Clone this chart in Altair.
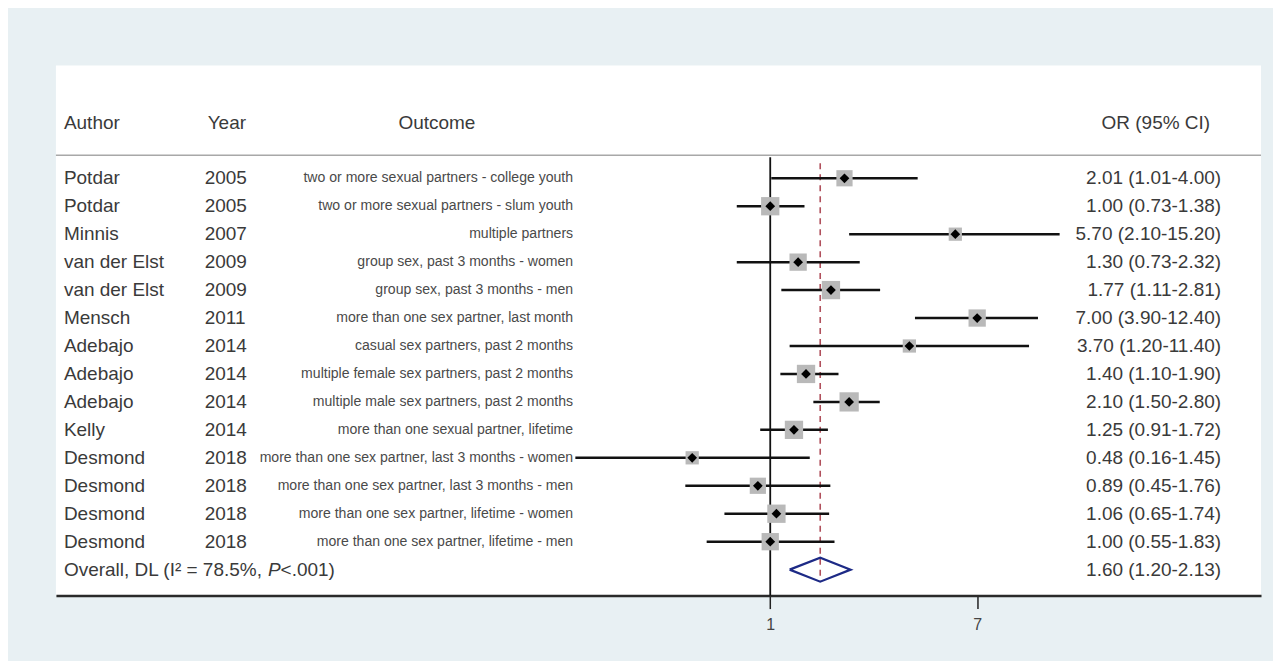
import altair as alt
import pandas as pd

# ---------------- data ----------------
headers = ["Author", "Year", "Outcome", "OR (95% CI)"]
authors = ["Potdar", "Potdar", "Minnis", "van der Elst", "van der Elst", "Mensch",
           "Adebajo", "Adebajo", "Adebajo", "Kelly", "Desmond", "Desmond",
           "Desmond", "Desmond"]
years = [2005, 2005, 2007, 2009, 2009, 2011, 2014, 2014, 2014, 2014,
         2018, 2018, 2018, 2018]
outcomes = [
    "two or more sexual partners - college youth",
    "two or more sexual partners - slum youth",
    "multiple partners",
    "group sex, past 3 months - women",
    "group sex, past 3 months - men",
    "more than one sex partner, last month",
    "casual sex partners, past 2 months",
    "multiple female sex partners, past 2 months",
    "multiple male sex partners, past 2 months",
    "more than one sexual partner, lifetime",
    "more than one sex partner, last 3 months - women",
    "more than one sex partner, last 3 months - men",
    "more than one sex partner, lifetime - women",
    "more than one sex partner, lifetime - men",
]
or_est = [2.01, 1.00, 5.70, 1.30, 1.77, 7.00, 3.70, 1.40, 2.10, 1.25, 0.48, 0.89, 1.06, 1.00]
or_lo = [1.01, 0.73, 2.10, 0.73, 1.11, 3.90, 1.20, 1.10, 1.50, 0.91, 0.16, 0.45, 0.65, 0.55]
or_hi = [4.00, 1.38, 15.20, 2.32, 2.81, 12.40, 11.40, 1.90, 2.80, 1.72, 1.45, 1.76, 1.74, 1.83]
weights = [6.6, 8.4, 4.4, 7.5, 8.4, 7.5, 4.4, 8.4, 9.3, 8.4, 4.4, 6.6, 8.4, 7.5]

overall_label = "Overall, DL (I\u00b2 = 78.5%, "
overall_p = "P"
overall_p_rest = "<.001)"
overall_est, overall_lo, overall_hi = 1.60, 1.20, 2.13
x_ticks = [1, 7]

# ---------------- tables ----------------
n = len(authors)
df = pd.DataFrame({
    "row": list(range(n)),
    "author": authors,
    "year": [str(y) for y in years],
    "outcome": outcomes,
    "est": or_est,
    "lo": or_lo,
    "hi": or_hi,
    "w": weights,
})
df["label"] = [f"{e:.2f} ({l:.2f}-{h:.2f})" for e, l, h in zip(or_est, or_lo, or_hi)]

orow = n
odf = pd.DataFrame({
    "row": [orow],
    "est": [overall_est],
    "lo": [overall_lo],
    "hi": [overall_hi],
    "label": [f"{overall_est:.2f} ({overall_lo:.2f}-{overall_hi:.2f})"],
    "t1": [overall_label],
    "t2": [overall_p],
    "t3": [overall_p_rest],
})
half = 0.43
diamond = pd.DataFrame({
    "x": [overall_lo, overall_est, overall_hi, overall_est, overall_lo],
    "row": [orow, orow - half, orow, orow + half, orow],
    "o": [0, 1, 2, 3, 4],
})

# ---------------- scales ----------------
W, H = 1207, 531
xscale = alt.Scale(type="log", domain=[0.00121, 101], nice=False)
yscale = alt.Scale(domain=[-4.036, 14.929], reverse=True, nice=False, zero=False)
FONT = "Liberation Sans"
TXT = "#3a3a3a"
Y = alt.Y("row:Q", scale=yscale, axis=None)

base = alt.Chart(df)

# header texts
hx = [8, 152, 343, 1156]
halign = ["left", "left", "left", "right"]
header_layers = [
    alt.Chart(pd.DataFrame({"t": [h]})).mark_text(
        align=a, baseline="middle", font=FONT, fontSize=19, color=TXT
    ).encode(text="t:N", x=alt.value(x), y=alt.value(58))
    for h, x, a in zip(headers, hx, halign)
]

header_rule = alt.Chart(pd.DataFrame({"a": [0]})).mark_rule(
    color="#a8a8a8", strokeWidth=1.5
).encode(x=alt.value(0), x2=alt.value(W), y=alt.value(90))

null_line = alt.Chart(pd.DataFrame({"x": [1]})).mark_rule(
    color="#111111", strokeWidth=1.8
).encode(x=alt.X("x:Q", scale=xscale), y=alt.value(92), y2=alt.value(H))

dashed = alt.Chart(odf).mark_rule(
    color="#b0505c", strokeWidth=1.6, strokeDash=[6, 5]
).encode(x=alt.X("est:Q", scale=xscale), y=alt.value(98), y2=alt.value(517))

ci = base.mark_rule(color="#111111", strokeWidth=2.5).encode(
    x=alt.X("lo:Q", scale=xscale,
            axis=alt.Axis(values=x_ticks, format="~g", title=None, grid=False)),
    x2="hi:Q",
    y=Y,
)

boxes = base.mark_square(color="#b9b9b9", opacity=1, filled=True).encode(
    x=alt.X("est:Q", scale=xscale),
    y=Y,
    size=alt.Size("w:Q", scale=alt.Scale(domain=[0, 10], range=[0, 400]), legend=None),
)

points = base.mark_point(shape="diamond", filled=True, size=95, color="#000000",
                         opacity=1).encode(x=alt.X("est:Q", scale=xscale), y=Y)

dia = alt.Chart(diamond).mark_line(color="#1d2a86", strokeWidth=2.2).encode(
    x=alt.X("x:Q", scale=xscale), y=alt.Y("row:Q", scale=yscale, axis=None),
    order="o:Q",
)

t_author = base.mark_text(align="left", baseline="middle", font=FONT,
                          fontSize=19, color=TXT).encode(
    text="author:N", x=alt.value(8), y=Y)
t_year = base.mark_text(align="left", baseline="middle", font=FONT,
                        fontSize=19, color=TXT).encode(
    text="year:N", x=alt.value(149), y=Y)
t_outcome = base.mark_text(align="right", baseline="middle", font=FONT,
                           fontSize=14.1, color="#4a4a4a").encode(
    text="outcome:N", x=alt.value(518), y=Y)
t_or = base.mark_text(align="right", baseline="middle", font=FONT,
                      fontSize=19, color=TXT).encode(
    text="label:N", x=alt.value(1167), y=Y)

ob = alt.Chart(odf)
t_o1 = ob.mark_text(align="left", baseline="middle", font=FONT, fontSize=19,
                    color=TXT).encode(text="t1:N", x=alt.value(8), y=Y)
t_o2 = ob.mark_text(align="left", baseline="middle", font=FONT, fontSize=19,
                    fontStyle="italic", color=TXT).encode(
    text="t2:N", x=alt.value(8 + 204.3), y=Y)
t_o3 = ob.mark_text(align="left", baseline="middle", font=FONT, fontSize=19,
                    color=TXT).encode(text="t3:N", x=alt.value(8 + 204.3 + 12.7), y=Y)
t_oor = ob.mark_text(align="right", baseline="middle", font=FONT, fontSize=19,
                     color=TXT).encode(text="label:N", x=alt.value(1167), y=Y)

chart = alt.layer(
    header_rule, null_line, dashed, ci, boxes, points, dia,
    *header_layers, t_author, t_year, t_outcome, t_or,
    t_o1, t_o2, t_o3, t_oor,
).properties(
    width=W, height=H,
    padding={"left": 47, "top": 57, "right": 11, "bottom": 49},
    background="#e8f0f3",
).configure_view(
    fill="white", strokeWidth=0
).configure_axisX(
    domainColor="#2a2a2a", domainWidth=2.5, tickColor="#222222", tickWidth=1.5,
    tickSize=13, labelFontSize=16, labelColor="#444444", labelFont=FONT,
    labelPadding=8,
)

chart.save("out.html", embed_options={"renderer": "svg", "actions": False})
